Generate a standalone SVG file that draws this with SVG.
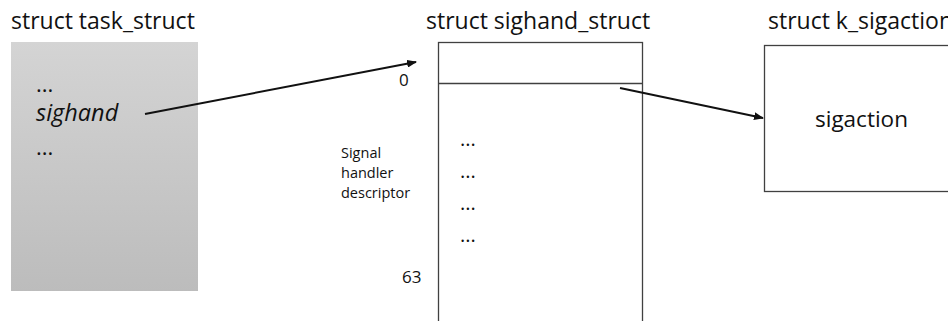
<svg xmlns="http://www.w3.org/2000/svg" width="948" height="321" viewBox="0 0 948 321">
<defs>
<linearGradient id="g1" x1="0" y1="0" x2="0" y2="1">
<stop offset="0" stop-color="#d4d4d4"/>
<stop offset="1" stop-color="#bcbcbc"/>
</linearGradient>
<marker id="ah" markerWidth="10" markerHeight="8" refX="9" refY="4" orient="auto" markerUnits="userSpaceOnUse">
<path d="M0,0 L10,4 L0,8 Z" fill="#111"/>
</marker>
<style>
text{font-family:"Open Sans","Noto Sans","Liberation Sans",sans-serif;fill:#111}
.t{font-size:23px}
.box{fill:#fff;stroke:#404040;stroke-width:1.3}
.small{font-size:14.5px}
.mid{font-size:17px}
.dots{font-size:20px}
.conn{stroke:#111;stroke-width:2;fill:none;marker-end:url(#ah)}
</style>
</defs>
<rect width="948" height="321" fill="#fff"/>
<g id="task_struct">
<text class="t" x="11" y="29">struct task_struct</text>
<rect x="11" y="42" width="187" height="249" fill="url(#g1)"/>
<text x="36" y="92" font-size="22">...</text>
<text x="36" y="121" font-size="23.5" font-style="italic">sighand</text>
<text x="36" y="155" font-size="22">...</text>
</g>
<g id="sighand_struct">
<text class="t" x="426" y="29">struct sighand_struct</text>
<rect class="box" x="438.5" y="42.5" width="204" height="290"/>
<line x1="438.5" y1="83.5" x2="642.5" y2="83.5" stroke="#404040" stroke-width="1.3"/>
<text class="mid" x="399" y="86">0</text>
<text class="mid" x="402" y="283">63</text>
<text class="small" x="341" y="158">Signal</text>
<text class="small" x="341" y="178">handler</text>
<text class="small" x="341" y="198">descriptor</text>
<text class="dots" x="460" y="146">...</text>
<text class="dots" x="460" y="178">...</text>
<text class="dots" x="460" y="210">...</text>
<text class="dots" x="460" y="242">...</text>
</g>
<g id="k_sigaction">
<text class="t" x="768" y="29">struct k_sigaction</text>
<rect class="box" x="764.5" y="45.5" width="200" height="146"/>
<text x="815" y="127" font-size="22.5">sigaction</text>
</g>
<g id="connectors">
<line class="conn" x1="145" y1="114" x2="416" y2="62"/>
<line class="conn" x1="620" y1="88" x2="763" y2="118"/>
</g>
</svg>
